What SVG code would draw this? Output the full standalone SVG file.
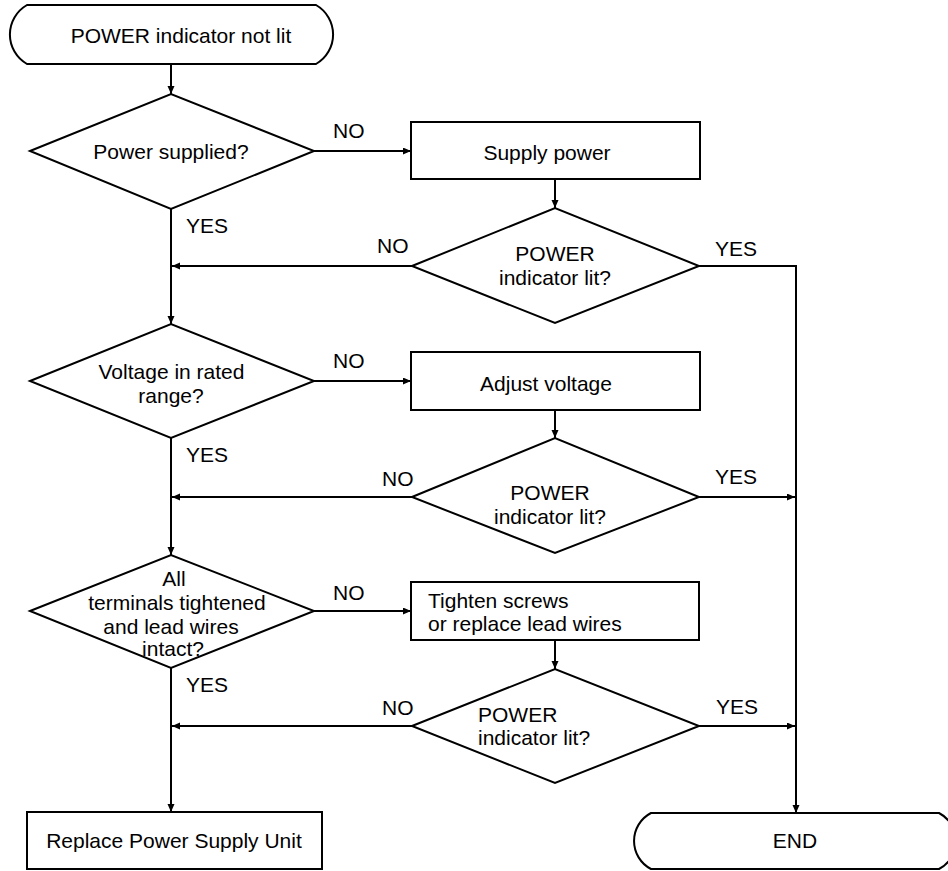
<svg xmlns="http://www.w3.org/2000/svg" width="948" height="871" viewBox="0 0 948 871">
<defs>
<marker id="arr" markerUnits="userSpaceOnUse" markerWidth="9" markerHeight="8" refX="8" refY="3.5" orient="auto">
<path d="M0,0 L8,3.5 L0,7 Z" fill="#000"/>
</marker>
<style>
.shape{fill:#fff;stroke:#000;stroke-width:2;stroke-linejoin:miter}
.con{fill:none;stroke:#000;stroke-width:2}
.con.a{marker-end:url(#arr)}
text{font-family:"Liberation Sans",Arial,Helvetica,sans-serif;font-size:21px;fill:#000}
.c{text-anchor:middle}
</style>
</defs>
<rect width="948" height="871" fill="#fff"/>

<g id="connectors">
<path class="con a" d="M171,64 V94"/>
<path class="con a" d="M314,151 H411"/>
<path class="con a" d="M555,179 V208"/>
<path class="con a" d="M171,209 V324"/>
<path class="con a" d="M412,266 H172"/>
<path class="con a" d="M699,266 H796 V813"/>
<path class="con a" d="M314,381 H411"/>
<path class="con a" d="M555,410 V438"/>
<path class="con a" d="M171,438 V555"/>
<path class="con a" d="M412,497 H172"/>
<path class="con a" d="M699,497 H795"/>
<path class="con a" d="M314,611 H411"/>
<path class="con a" d="M555,640 V669"/>
<path class="con a" d="M171,668 V812"/>
<path class="con a" d="M412,726 H172"/>
<path class="con a" d="M699,726 H795"/>
<text x="333" y="137.5">NO</text>
<text x="186" y="232.5">YES</text>
<text x="377" y="252.5">NO</text>
<text x="715" y="255.5">YES</text>
<text x="333" y="367.5">NO</text>
<text x="186" y="461.5">YES</text>
<text x="382" y="485.5">NO</text>
<text x="715" y="483.5">YES</text>
<text x="333" y="599.5">NO</text>
<text x="186" y="691.5">YES</text>
<text x="382" y="714.5">NO</text>
<text x="716" y="713.5">YES</text>
</g>

<g id="start">
<path class="shape" d="M27,5 H316 A34 34 0 0 1 316,64 H27 A34 34 0 0 1 27,5 Z"/>
<text class="c" x="181" y="42.5">POWER indicator not lit</text>
</g>

<g id="d1">
<polygon class="shape" points="30,151 171,94 314,151 171,209"/>
<text class="c" x="171" y="158.5">Power supplied?</text>
</g>

<g id="supply">
<rect class="shape" x="411" y="122" width="289" height="57"/>
<text class="c" x="547" y="159.5">Supply power</text>
</g>

<g id="d2">
<polygon class="shape" points="412,266 555,208 699,266 555,323"/>
<text class="c" x="555" y="260.5">POWER</text>
<text class="c" x="555" y="284.5">indicator lit?</text>
</g>

<g id="d3">
<polygon class="shape" points="30,381 171,324 314,381 171,438"/>
<text class="c" x="171.5" y="378.5">Voltage in rated</text>
<text class="c" x="171" y="402.5">range?</text>
</g>

<g id="adjust">
<rect class="shape" x="411" y="352" width="289" height="58"/>
<text class="c" x="546" y="390.5">Adjust voltage</text>
</g>

<g id="d4">
<polygon class="shape" points="412,497 555,438 699,497 555,553"/>
<text class="c" x="550" y="499.5">POWER</text>
<text class="c" x="550" y="523.5">indicator lit?</text>
</g>

<g id="d5">
<polygon class="shape" points="30,611 171,555 314,611 171,668"/>
<text class="c" x="174" y="585.5">All</text>
<text class="c" x="177" y="609.5">terminals tightened</text>
<text class="c" x="171" y="633.5">and lead wires</text>
<text class="c" x="173" y="655.5">intact?</text>
</g>

<g id="tighten">
<rect class="shape" x="411" y="582" width="288" height="58"/>
<text x="428" y="607.5">Tighten screws</text>
<text x="428" y="630.5">or replace lead wires</text>
</g>

<g id="d6">
<polygon class="shape" points="412,726 555,669 699,726 555,783"/>
<text x="478" y="721.5">POWER</text>
<text x="478" y="744.5">indicator lit?</text>
</g>

<g id="replace">
<rect class="shape" x="27" y="812" width="295" height="57"/>
<text class="c" x="174" y="848">Replace Power Supply Unit</text>
</g>

<g id="end">
<path class="shape" d="M651,813 H939 A31.6 31.6 0 0 1 939,869 H651 A31.6 31.6 0 0 1 651,813 Z"/>
<text class="c" x="795" y="847.5">END</text>
</g>
</svg>
